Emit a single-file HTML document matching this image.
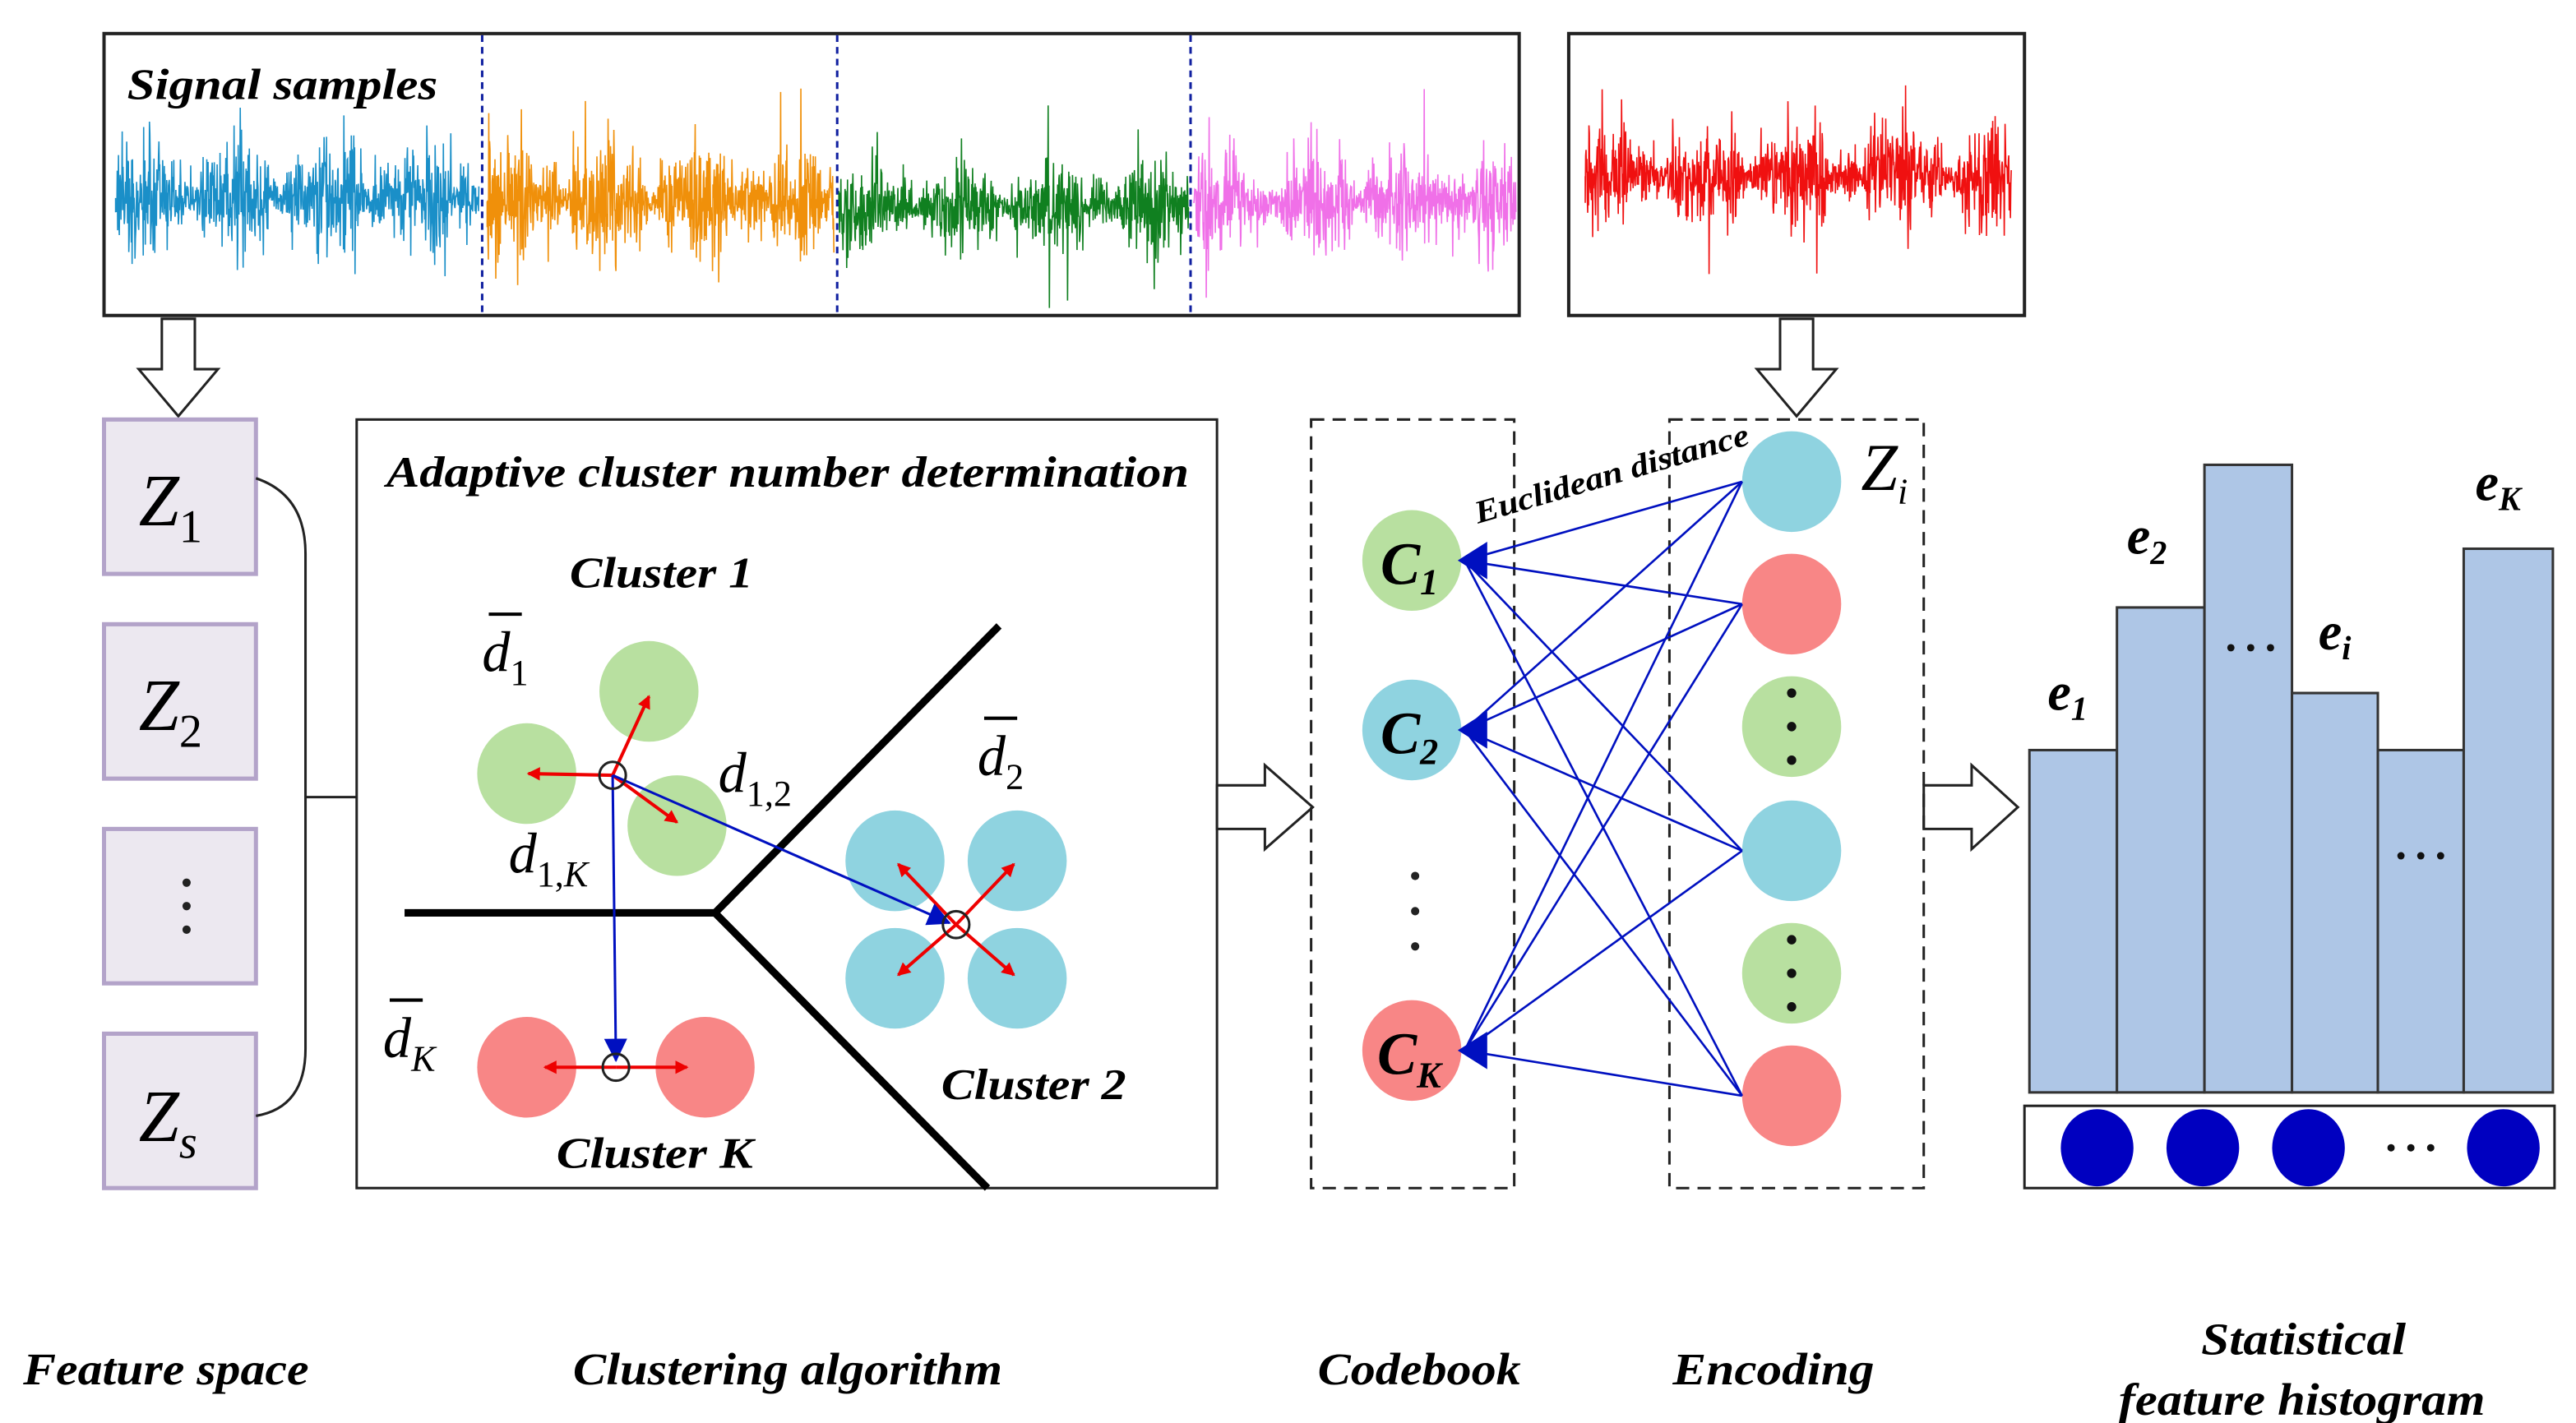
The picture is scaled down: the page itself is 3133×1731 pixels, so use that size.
<!DOCTYPE html>
<html><head><meta charset="utf-8"><style>
html,body{margin:0;padding:0;background:#fff;}
svg{display:block;}
text{font-family:"Liberation Serif","Times New Roman",serif;}
.t{font-weight:bold;font-style:italic;font-size:26px;}
</style></head><body>
<svg id="s" width="3133" height="1731" viewBox="0 0 1560 848" preserveAspectRatio="none" xmlns="http://www.w3.org/2000/svg">
<defs>
<marker id="ra" markerWidth="8" markerHeight="8" refX="7" refY="4" orient="auto" markerUnits="userSpaceOnUse"><path d="M0,0 L8,4 L0,8z" fill="#e00"/></marker>
<marker id="ba" markerWidth="14" markerHeight="14" refX="13" refY="7" orient="auto" markerUnits="userSpaceOnUse"><path d="M0,0 L14,7 L0,14z" fill="#0010c0"/></marker>
</defs>
<rect width="1560" height="848" fill="#fff"/>
<g id="sig"></g>
<rect x="63" y="20" width="857" height="168" fill="none" stroke="#222" stroke-width="2"/>
<rect x="950" y="20" width="276" height="168" fill="none" stroke="#222" stroke-width="2"/>
<g stroke="#1020a0" stroke-width="1.5" stroke-dasharray="4,3">
<line x1="292" y1="21" x2="292" y2="187"/><line x1="507" y1="21" x2="507" y2="187"/><line x1="721" y1="21" x2="721" y2="187"/></g>
<text x="77" y="59" class="t" textLength="188" lengthAdjust="spacingAndGlyphs">Signal samples</text>
<path d="M98,190 L118,190 L118,220 L132,220 L108,248 L84,220 L98,220Z" fill="#fff" stroke="#222" stroke-width="1.5"/>
<path d="M1078,190 L1098,190 L1098,220 L1112,220 L1088,248 L1064,220 L1078,220Z" fill="#fff" stroke="#222" stroke-width="1.5"/>
<g fill="#ece8f0" stroke="#b3a3c9" stroke-width="2.5">
<rect x="63" y="250" width="92" height="92"/><rect x="63" y="372" width="92" height="92"/>
<rect x="63" y="494" width="92" height="92"/><rect x="63" y="616" width="92" height="92"/></g>
<g font-size="44" font-style="italic">
<text x="84" y="313">Z<tspan font-size="28" font-style="normal" dy="10">1</tspan></text>
<text x="84" y="435">Z<tspan font-size="28" font-style="normal" dy="10">2</tspan></text>
<text x="84" y="680">Z<tspan font-size="28" dy="10">s</tspan></text></g>
<g fill="#222"><circle cx="113" cy="526" r="2.5"/><circle cx="113" cy="540" r="2.5"/><circle cx="113" cy="554" r="2.5"/></g>
<path d="M155,285 Q185,295 185,330 L185,625 Q185,660 155,665" fill="none" stroke="#222" stroke-width="1.5"/>
<line x1="185" y1="475" x2="216" y2="475" stroke="#222" stroke-width="1.5"/>
<rect x="216" y="250" width="521" height="458" fill="#fff" stroke="#222" stroke-width="1.5"/>
<text x="234" y="290" class="t" textLength="486" lengthAdjust="spacingAndGlyphs">Adaptive cluster number determination</text>
<g stroke="#000" stroke-width="4.5" fill="none"><path d="M245,544 L433,544 L605,373 M433,544 L598,708"/></g>
<g fill="#b8e0a0"><circle cx="393" cy="412" r="30"/><circle cx="319" cy="461" r="30"/><circle cx="410" cy="492" r="30"/></g>
<g fill="#8fd3e0"><circle cx="542" cy="513" r="30"/><circle cx="616" cy="513" r="30"/><circle cx="542" cy="583" r="30"/><circle cx="616" cy="583" r="30"/></g>
<g fill="#f88686"><circle cx="319" cy="636" r="30"/><circle cx="427" cy="636" r="30"/></g>
<g stroke="#e00" stroke-width="2" marker-end="url(#ra)">
<line x1="371" y1="462" x2="393" y2="415"/><line x1="371" y1="462" x2="320" y2="461"/><line x1="371" y1="462" x2="410" y2="490"/>
<line x1="579" y1="551" x2="544" y2="515"/><line x1="579" y1="551" x2="614" y2="515"/><line x1="579" y1="551" x2="544" y2="581"/><line x1="579" y1="551" x2="614" y2="581"/>
<line x1="373" y1="636" x2="330" y2="636"/><line x1="373" y1="636" x2="416" y2="636"/></g>
<g stroke="#0010c0" stroke-width="1.5" marker-end="url(#ba)"><line x1="371" y1="462" x2="575" y2="550"/><line x1="371" y1="462" x2="373" y2="632"/></g>
<g fill="none" stroke="#222" stroke-width="1.5"><circle cx="371" cy="462" r="8"/><circle cx="579" cy="551" r="8"/><circle cx="373" cy="636" r="8"/></g>
<text x="345" y="350" class="t" textLength="111" lengthAdjust="spacingAndGlyphs">Cluster 1</text>
<text x="570" y="655" class="t" textLength="112" lengthAdjust="spacingAndGlyphs">Cluster 2</text>
<text x="337" y="696" class="t" textLength="119" lengthAdjust="spacingAndGlyphs">Cluster K</text>
<g font-size="34" font-style="italic">
<text x="292" y="400">d<tspan font-size="22" font-style="normal" dy="8">1</tspan></text>
<line x1="296" y1="366" x2="316" y2="366" stroke="#000" stroke-width="2"/>
<text x="592" y="462">d<tspan font-size="22" font-style="normal" dy="8">2</tspan></text>
<line x1="596" y1="428" x2="616" y2="428" stroke="#000" stroke-width="2"/>
<text x="232" y="630">d<tspan font-size="22" dy="8">K</tspan></text>
<line x1="236" y1="596" x2="256" y2="596" stroke="#000" stroke-width="2"/>
<text x="435" y="472">d<tspan font-size="22" font-style="normal" dy="8">1,2</tspan></text>
<text x="308" y="520">d<tspan font-size="22" font-style="normal" dy="8">1,</tspan><tspan font-size="22">K</tspan></text></g>
<path d="M737,468 L766,468 L766,456 L795,481 L766,506 L766,494 L737,494Z" fill="#fff" stroke="#222" stroke-width="1.5"/>
<path d="M1165,468 L1194,468 L1194,456 L1222,481 L1194,506 L1194,494 L1165,494Z" fill="#fff" stroke="#222" stroke-width="1.5"/>
<g fill="none" stroke="#222" stroke-width="1.5" stroke-dasharray="8,5">
<rect x="794" y="250" width="123" height="458"/><rect x="1011" y="250" width="154" height="458"/></g>
<circle cx="855" cy="334" r="30" fill="#b8e0a0"/><circle cx="855" cy="435" r="30" fill="#8fd3e0"/><circle cx="855" cy="626" r="30" fill="#f88686"/>
<g fill="#222"><circle cx="857" cy="522" r="2.5"/><circle cx="857" cy="543" r="2.5"/><circle cx="857" cy="564" r="2.5"/></g>
<g font-size="36" font-weight="bold" font-style="italic">
<text x="836" y="348">C<tspan font-size="22" dy="6">1</tspan></text>
<text x="836" y="449">C<tspan font-size="22" dy="6">2</tspan></text>
<text x="834" y="640">C<tspan font-size="22" dy="8">K</tspan></text></g>
<circle cx="1085" cy="287" r="30" fill="#8fd3e0"/><circle cx="1085" cy="360" r="30" fill="#f88686"/>
<circle cx="1085" cy="433" r="30" fill="#b8e0a0"/><circle cx="1085" cy="507" r="30" fill="#8fd3e0"/>
<circle cx="1085" cy="580" r="30" fill="#b8e0a0"/><circle cx="1085" cy="653" r="30" fill="#f88686"/>
<g fill="#111"><circle cx="1085" cy="413" r="2.8"/><circle cx="1085" cy="433" r="2.8"/><circle cx="1085" cy="453" r="2.8"/>
<circle cx="1085" cy="560" r="2.8"/><circle cx="1085" cy="580" r="2.8"/><circle cx="1085" cy="600" r="2.8"/></g>
<text x="1127" y="292" font-size="40" font-style="italic">Z<tspan font-size="22" dy="8">i</tspan></text>
<g id="lines" stroke="#0010c0" stroke-width="1.3"></g>
<text x="0" y="0" font-size="19" font-weight="bold" font-style="italic" textLength="172" lengthAdjust="spacingAndGlyphs" transform="translate(895,312) rotate(-16)">Euclidean distance</text>
<g fill="#aec6e6" stroke="#333" stroke-width="1.5">
<rect x="1229" y="447" width="53" height="204"/><rect x="1282" y="362" width="53" height="289"/>
<rect x="1335" y="277" width="53" height="374"/><rect x="1388" y="413" width="52" height="238"/>
<rect x="1440" y="447" width="52" height="204"/><rect x="1492" y="327" width="54" height="324"/></g>
<g font-size="32" font-weight="bold" font-style="italic">
<text x="1240" y="423">e<tspan font-size="20" dy="6">1</tspan></text>
<text x="1288" y="330">e<tspan font-size="20" dy="6">2</tspan></text>
<text x="1404" y="387">e<tspan font-size="20" dy="6">i</tspan></text>
<text x="1499" y="298">e<tspan font-size="20" dy="6">K</tspan></text></g>
<rect x="1226" y="659" width="321" height="49" fill="#fff" stroke="#222" stroke-width="1.5"/>
<g fill="#111"><circle cx="1351" cy="386" r="2.2"/><circle cx="1363" cy="386" r="2.2"/><circle cx="1375" cy="386" r="2.2"/>
<circle cx="1454" cy="510" r="2.2"/><circle cx="1466" cy="510" r="2.2"/><circle cx="1478" cy="510" r="2.2"/>
<circle cx="1448" cy="684" r="2.2"/><circle cx="1460" cy="684" r="2.2"/><circle cx="1472" cy="684" r="2.2"/></g>
<g fill="#0000c0"><ellipse cx="1270" cy="684" rx="22" ry="23"/><ellipse cx="1334" cy="684" rx="22" ry="23"/><ellipse cx="1398" cy="684" rx="22" ry="23"/><ellipse cx="1516" cy="684" rx="22" ry="23"/></g>
<g font-weight="bold" font-style="italic" font-size="27" lengthAdjust="spacingAndGlyphs">
<text x="14" y="825" textLength="173" lengthAdjust="spacingAndGlyphs">Feature space</text>
<text x="347" y="825" textLength="260" lengthAdjust="spacingAndGlyphs">Clustering algorithm</text>
<text x="798" y="825" textLength="123" lengthAdjust="spacingAndGlyphs">Codebook</text>
<text x="1013" y="825" textLength="122" lengthAdjust="spacingAndGlyphs">Encoding</text>
<text x="1333" y="807" textLength="124" lengthAdjust="spacingAndGlyphs">Statistical</text>
<text x="1283" y="843" textLength="222" lengthAdjust="spacingAndGlyphs">feature histogram</text></g>
</svg>
<script>
(function(){
var NS="http://www.w3.org/2000/svg";
var seed=7;function r(){seed=(seed*16807)%2147483647;return seed/2147483647;}
function sig(x0,x1,cy,amp,col){
 var d="M"+x0+","+cy,n=(x1-x0)*4;
 for(var i=0;i<=n;i++){var x=x0+i/4;var env=0.7+0.3*Math.sin(i/37)+0.2*Math.sin(i/11);var a=amp*env*(0.3+0.7*Math.pow(r(),1.5));var y=cy+(r()-0.5)*2*a*(r()<0.12?1.7:1);
  y=Math.max(24,Math.min(184,y));d+=" L"+x.toFixed(2)+","+y.toFixed(1);}
 var p=document.createElementNS(NS,"path");p.setAttribute("d",d);p.setAttribute("stroke",col);p.setAttribute("stroke-width","0.8");p.setAttribute("fill","none");
 document.getElementById("sig").appendChild(p);}
sig(70,290,118,48,"#1a8fc8");sig(295,505,120,52,"#f0900a");sig(508,720,123,40,"#108020");sig(723,918,120,46,"#f070e8");sig(960,1218,105,46,"#f01010");
var g=document.getElementById("lines");
var R=[287,360,507,653],C=[334,435,626];
R.forEach(function(y){C.forEach(function(c){var l=document.createElementNS(NS,"line");
l.setAttribute("x1",1055);l.setAttribute("y1",y);l.setAttribute("x2",887);l.setAttribute("y2",c);g.appendChild(l);});});
C.forEach(function(c){var p=document.createElementNS(NS,"path");p.setAttribute("d","M884,"+c+" L900,"+(c-10)+" L900,"+(c+10)+"Z");p.setAttribute("fill","#0010c0");g.appendChild(p);});
})();
</script>
</body></html>
